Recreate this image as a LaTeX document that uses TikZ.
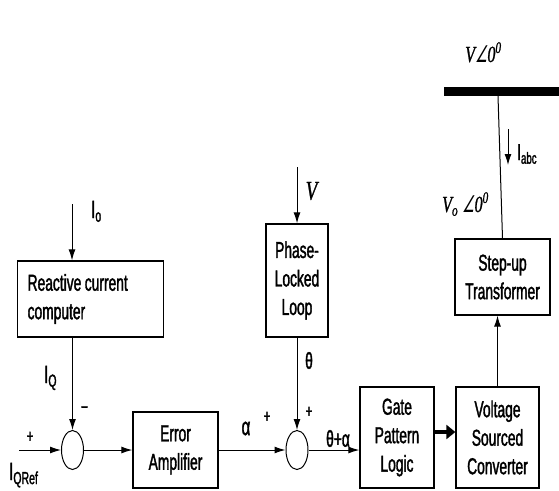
\documentclass[tikz,border=0pt]{standalone}
\usepackage{fontspec}
\setmainfont{Liberation Sans}[FakeStretch=0.6,FakeBold=1.5]
\newfontfamily\timesit{Liberation Serif}[FakeStretch=0.7,FakeBold=1]
\newfontfamily\angfont{DejaVu Sans}[FakeStretch=0.6,FakeSlant=0.2]
\usetikzlibrary{arrows.meta,shapes.geometric}

\begin{document}
\begin{tikzpicture}[x=1pt,y=-1pt,font=\fontsize{23}{28.5}\selectfont,
        block/.style={draw,line width=1.3pt,align=center,inner sep=0pt},
        sumj/.style={draw,ellipse,line width=1pt,minimum width=22pt,minimum height=39pt,inner sep=0pt},
        sig/.style={line width=1pt,-{Latex[length=11pt,width=7pt]}},
        lbl/.style={inner sep=0pt}]
            \useasboundingbox (0,0) rectangle (559,490);
            \node[block,anchor=west,text width=126pt,inner xsep=10pt,minimum height=76pt,align=left] (rcc) at (17,299) {Reactive\hspace{3.5pt}current\\computer};
            \node[block,minimum width=85pt,minimum height=76pt] (err) at (175.5,450) {Error\\Amplifier};
            \node[block,minimum width=62pt,minimum height=113pt] (pll) at (297,280.5) {Phase-\\Locked\\Loop};
            \node[block,minimum width=74pt,minimum height=101pt] (gpl) at (397,437.5) {Gate\\Pattern\\Logic};
            \node[block,minimum width=83pt,minimum height=101pt] (vsc) at (497.5,437.5) {Voltage\\Sourced\\Converter};
            \node[block,minimum width=95pt,minimum height=76pt] (stp) at (502.5,277) {Step-up\\Transformer};
            \node[sumj] (s1) at (72.5,450) {};
            \node[sumj] (s2) at (297,450) {};
            \coordinate (qref) at (19,450);
            \coordinate (io) at (72,204);
            \coordinate (vin) at (297,167);
            \coordinate (busL) at (444,91.5);
            \coordinate (busR) at (559,91.5);
            \coordinate (tap) at (498,96);
            \coordinate (ia1) at (508,129);
            \coordinate (ia2) at (508,165);
            \draw[sig] (qref) -- (s1.west);
            \draw[sig] (io) -- (io |- rcc.north);
            \draw[sig] (s1 |- rcc.south) -- (s1.north);
            \draw[sig] (vin) -- (pll.north);
            \draw[sig] (pll.south) -- (s2.north);
            \draw[sig] (s1.east) -- (err.west);
            \draw[sig] (err.east) -- (s2.west);
            \draw[sig] (s2.east) -- (s2.east -| gpl.west);
            \draw[line width=4pt,-{Triangle[length=9pt,width=14pt]}] ([yshift=5.5pt]gpl.east) -- ([yshift=5.5pt]vsc.west);
            \draw[sig] (vsc.north) -- (vsc.north |- stp.south);
            \draw[line width=1pt] (stp.north) -- (tap);
            \draw[line width=9pt] (busL) -- (busR);
            \draw[sig] (ia1) -- (ia2);
            \node[lbl,anchor=base west,font=\fontsize{25}{28}\selectfont] (lio) at (91,218) {I\textsubscript{o}};
            \node[lbl,anchor=base west,font=\fontsize{25}{28}\selectfont] (liq) at (44,383) {I\textsubscript{Q}};
            \node[lbl,anchor=base west,font=\fontsize{25}{28}\selectfont] (liqref) at (9,480) {I\textsubscript{QRef}};
            \node[lbl,font=\fontsize{20}{20}\selectfont] (mneg) at (84.5,410) {−};
            \node[lbl,font=\fontsize{18}{18}\selectfont] (pq) at (30,437) {+};
            \node[lbl,font=\fontsize{18}{18}\selectfont] (pa) at (267,417) {+};
            \node[lbl,font=\fontsize{18}{18}\selectfont] (pt) at (309,412) {+};
            \node[lbl,font=\fontsize{25}{28}\selectfont] (lal) at (246,428.5) {α};
            \node[lbl] (lth) at (309,360.5) {θ};
            \node[lbl] (lsum) at (338,438.5) {θ+α};
            \node[lbl,font=\fontsize{27}{28}\timesit\itshape] (lv) at (311.5,191) {V};
            \node[lbl,anchor=base west,font=\fontsize{23}{28}\selectfont] (lbus) at (465,62) {{\timesit\itshape V}{\angfont ∠}{\timesit\itshape 0\textsuperscript{0}}};
            \node[lbl,anchor=base west,font=\fontsize{23}{28}\selectfont] (lvo) at (442,212) {{\timesit\itshape V\textsubscript{o} }{\angfont ∠}{\timesit\itshape 0\textsuperscript{0}}};
            \node[lbl,anchor=base west] (liabc) at (517,160) {I\textsubscript{abc}};
        \end{tikzpicture}
\end{document}
